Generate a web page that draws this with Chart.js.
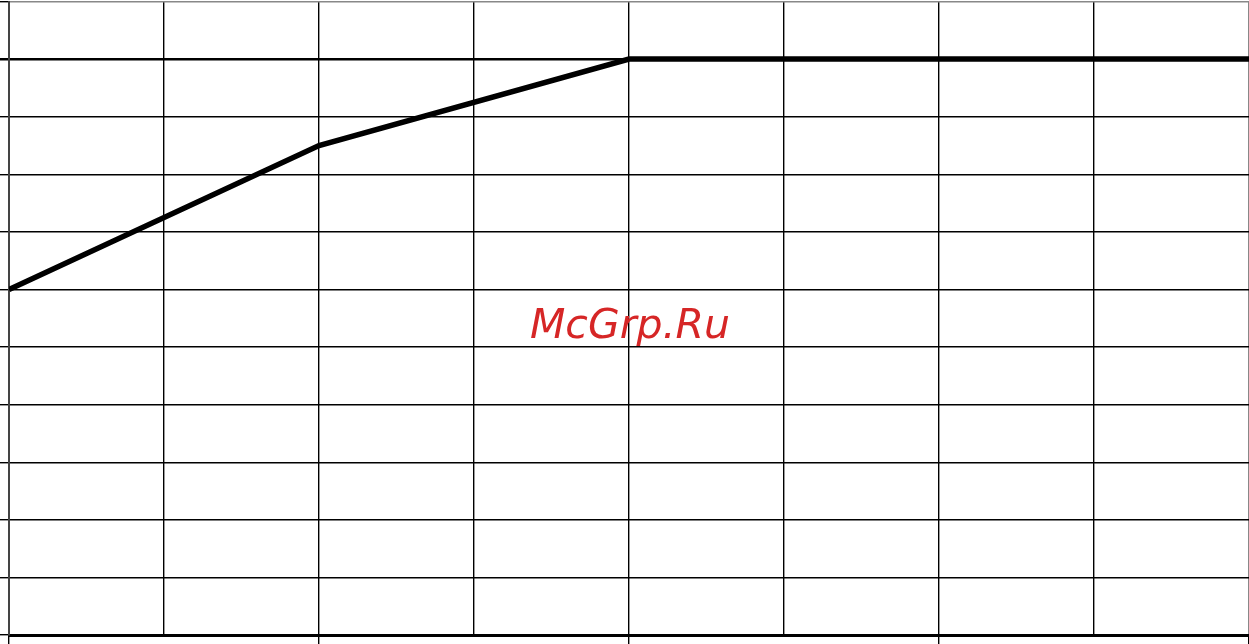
<!DOCTYPE html>
<html>
<head>
<meta charset="utf-8">
<script src="https://cdn.jsdelivr.net/npm/chart.js@4"></script>
<style>
  html, body { margin: 0; padding: 0; background: #fff; }
  canvas { display: block; }
</style>
</head>
<body>
<canvas id="chartOne" width="1249" height="644"></canvas>
<script>
// data
const xValues = [0, 2, 4, 8];
const yValues = [6, 8.5, 10, 10];
const xTicks = [0, 1, 2, 3, 4, 5, 6, 7, 8];
const yTicks = [0, 1, 2, 3, 4, 5, 6, 7, 8, 9, 10, 11];
const watermark = 'McGrp.Ru';

const points = xValues.map((x, i) => ({ x: x, y: yValues[i] }));

// watermark text in the middle
const watermarkPlugin = {
    id: 'watermark',
    afterDraw(chart) {
        const ctx = chart.ctx;
        ctx.save();
        ctx.font = 'oblique 41px "DejaVu Sans"';
        ctx.fillStyle = 'rgb(214, 38, 38)';
        ctx.textAlign = 'center';
        ctx.textBaseline = 'alphabetic';
        ctx.fillText(watermark, 630, 338);
        ctx.restore();
    }
};

const ctx = document.getElementById('chartOne').getContext('2d');

new Chart(ctx, {
    type: 'line',
    data: {
        datasets: [{
            data: points,
            borderColor: '#000',
            borderWidth: 5.5,
            pointRadius: 0,
            tension: 0,
            fill: false
        }]
    },
    options: {
        responsive: false,
        animation: false,
        layout: { padding: { top: 1.5, right: 0, left: 0, bottom: 0 } },
        plugins: {
            legend: { display: false },
            tooltip: { enabled: false }
        },
        scales: {
            x: {
                type: 'linear',
                min: 0,
                max: 8,
                afterBuildTicks: (axis) => { axis.ticks = xTicks.map(v => ({ value: v })); },
                ticks: { display: false },
                border: { display: true, color: '#000', width: 3 },
                grid: {
                    color: (c) => c.index === 8 ? '#888' : '#000',
                    lineWidth: 1.4,
                    tickLength: 9,
                    tickColor: (c) => c.index % 2 === 0 ? '#000' : 'rgba(0,0,0,0)'
                }
            },
            y: {
                min: 0,
                max: 11,
                afterBuildTicks: (axis) => { axis.ticks = yTicks.map(v => ({ value: v })); },
                ticks: { display: false },
                border: { display: true, color: '#444', width: 2 },
                grid: {
                    color: (c) => c.tick && c.tick.value === 11 ? '#888' : '#000',
                    lineWidth: (c) => c.tick && c.tick.value === 10 ? 2.5 : 1.4,
                    tickLength: 9,
                    tickColor: '#000'
                }
            }
        }
    },
    plugins: [watermarkPlugin]
});
</script>
</body>
</html>
